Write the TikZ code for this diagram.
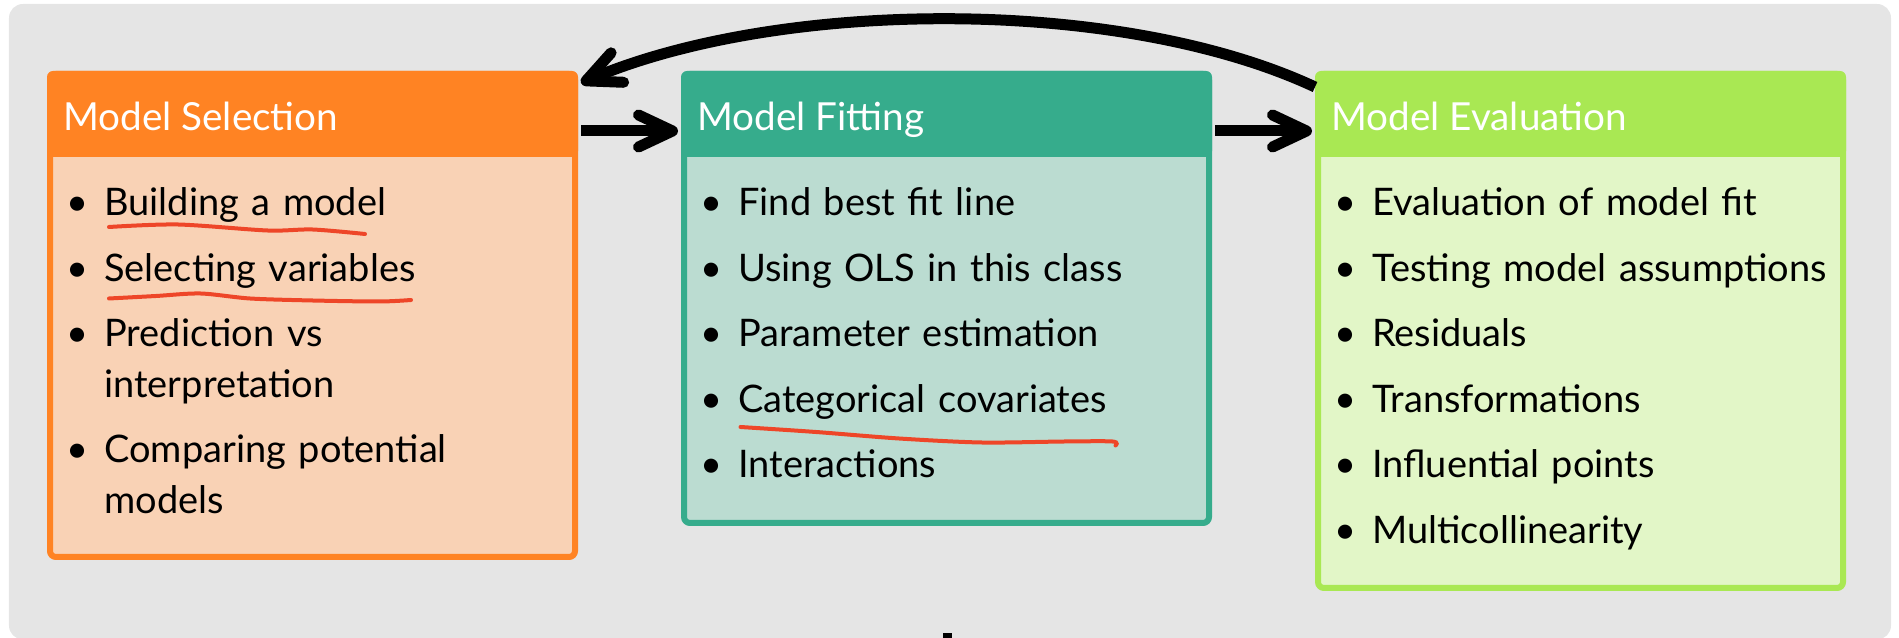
\documentclass[tikz,border=0pt]{standalone}
\usepackage{fontspec}
\setmainfont{Lato}
\usepackage{enumitem}
\usetikzlibrary{arrows.meta}

\definecolor{selhead}{RGB}{255,131,35}
\definecolor{selbody}{RGB}{249,210,181}
\definecolor{fithead}{RGB}{54,172,140}
\definecolor{fitbody}{RGB}{187,220,209}
\definecolor{evalhead}{RGB}{169,232,83}
\definecolor{evalbody}{RGB}{226,246,199}
\definecolor{panel}{RGB}{229,229,229}
\definecolor{pen}{RGB}{238,70,40}

\newcommand{\headfont}{\fontsize{22}{28.7}\selectfont}
\newcommand{\listfont}{\fontsize{21.6}{28.7}\selectfont}
\setlist[itemize]{leftmargin=0.88cm, labelsep=0.31cm, itemsep=0.3cm,
  topsep=0pt, parsep=0pt, partopsep=0pt, label=\textbullet}

\begin{document}
\begin{tikzpicture}[
  box/.style = {draw, line width=0.12cm, rounded corners=0.12cm,
    anchor=north west, minimum width=10.5cm, inner sep=0},
  headtext/.style = {anchor=base west, inner sep=0, text=white, font=\headfont},
  bodytext/.style = {anchor=base west, inner sep=0, text width=10.2cm,
    align=left, font=\listfont},
  flow/.style = {line width=0.22cm, -{Straight Barb[length=0.68cm, width=0.64cm,
    line cap=round, line join=round]}},
  scribble/.style = {pen, line width=0.08cm, line cap=round}
]
\useasboundingbox (0, 0) rectangle (37.98, 12.76);
\fill[panel, rounded corners=0.28cm] (0.18, -0.03) rectangle (37.82, 12.68);

\node[box, draw=selhead, fill=selbody, minimum height=9.66cm] (sel) at (0.94, 11.34) {};
\node[box, draw=fithead, fill=fitbody, minimum height=8.98cm] (fit) at (13.62, 11.34) {};
\node[box, draw=evalhead, fill=evalbody, minimum height=10.28cm] (eval) at (26.3, 11.34) {};

\fill[selhead, rounded corners=0.12cm] (sel.north west) rectangle ([yshift=-1.72cm]sel.north east);
\fill[fithead, rounded corners=0.12cm] (fit.north west) rectangle ([yshift=-1.72cm]fit.north east);
\fill[evalhead, rounded corners=0.12cm] (eval.north west) rectangle ([yshift=-1.72cm]eval.north east);

\node[headtext] (selname) at ([xshift=0.32cm, yshift=-1.2cm]sel.north west) {Model Selection};
\node[headtext] (fitname) at ([xshift=0.32cm, yshift=-1.2cm]fit.north west) {Model Fitting};
\node[headtext] (evalname) at ([xshift=0.32cm, yshift=-1.2cm]eval.north west) {Model Evaluation};

\node[bodytext] (sellist) at ([xshift=0.26cm, yshift=-1.89cm]sel.north west) {%
  \begin{itemize}
  \item Building a model
  \item Selecting variables
  \item Prediction vs\newline interpretation
  \item Comparing potential\newline models
  \end{itemize}};
\node[bodytext] (fitlist) at ([xshift=0.26cm, yshift=-1.89cm]fit.north west) {%
  \begin{itemize}
  \item Find best fit line
  \item Using OLS in this class
  \item Parameter estimation
  \item Categorical covariates
  \item Interactions
  \end{itemize}};
\node[bodytext] (evallist) at ([xshift=0.26cm, yshift=-1.89cm]eval.north west) {%
  \begin{itemize}
  \item Evaluation of model fit
  \item Testing model assumptions
  \item Residuals
  \item Transformations
  \item Influential points
  \item Multicollinearity
  \end{itemize}};

\draw[flow, shorten <=0.06cm, shorten >=0.06cm] ([yshift=-1.2cm]sel.north east) -- ([yshift=-1.2cm]fit.north west);
\draw[flow, shorten <=0.06cm, shorten >=0.06cm] ([yshift=-1.2cm]fit.north east) -- ([yshift=-1.2cm]eval.north west);
\draw[flow] ([yshift=-0.32cm]eval.north west) to[out=155, in=23, looseness=0.75] ([xshift=0.06cm, yshift=-0.24cm]sel.north east);

% pen marks under the list items
\draw[scribble] plot[smooth] coordinates {(2.18, 8.22) (3.56, 8.27) (5.35, 8.15) (6.25, 8.17) (7.30, 8.08)};
\draw[scribble] plot[smooth] coordinates {(2.18, 6.79) (3.12, 6.84) (4.01, 6.89) (5.00, 6.79) (6.25, 6.75) (7.59, 6.73) (8.22, 6.76)};
\draw[scribble] plot[smooth] coordinates {(14.81, 4.22) (16.32, 4.12) (17.98, 3.99) (19.63, 3.91) (21.29, 3.93) (22.25, 3.93) (22.31, 3.85)};

\fill (18.85, 0) rectangle (19.04, 0.093);
\end{tikzpicture}
\end{document}
